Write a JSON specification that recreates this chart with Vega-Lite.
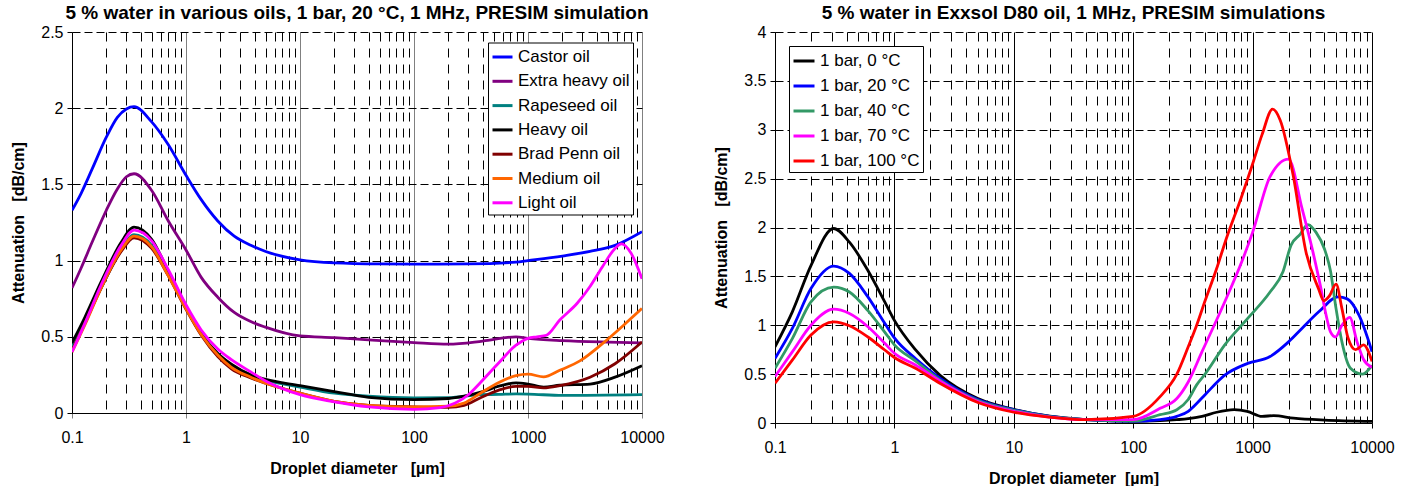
{
  "$schema": "https://vega.github.io/schema/vega-lite/v6.json",
  "background": "white",
  "padding": {"left": 10, "top": 4, "right": 5, "bottom": 0},
  "spacing": 48,
  "resolve": {"scale": {"color": "independent"}, "legend": {"color": "independent"}},
  "config": {
    "font": "Liberation Sans",
    "view": {"stroke": null},
    "title": {"font": "Liberation Sans", "fontSize": 19, "fontWeight": "bold", "color": "black", "anchor": "middle", "offset": 1},
    "axis": {"labelFont": "Liberation Sans", "labelFontSize": 16, "labelColor": "black", "titleFont": "Liberation Sans", "titleFontSize": 16, "titleFontWeight": "bold", "titleColor": "black", "domainColor": "black", "tickColor": "black", "tickSize": 5, "labelOverlap": false, "labelFlush": false},
    "legend": {"labelFont": "Liberation Sans", "labelFontSize": 17, "labelColor": "black"}
  },
  "datasets": {
    "oils": [
      {"s": "Castor oil", "d": 0.1, "a": 1.33}, {"s": "Castor oil", "d": 0.12, "a": 1.44}, {"s": "Castor oil", "d": 0.15, "a": 1.6}, {"s": "Castor oil", "d": 0.2, "a": 1.81}, {"s": "Castor oil", "d": 0.25, "a": 1.94}, {"s": "Castor oil", "d": 0.3, "a": 1.995}, {"s": "Castor oil", "d": 0.35, "a": 2.01}, {"s": "Castor oil", "d": 0.5, "a": 1.91}, {"s": "Castor oil", "d": 0.7, "a": 1.76}, {"s": "Castor oil", "d": 1.0, "a": 1.56}, {"s": "Castor oil", "d": 1.36, "a": 1.40}, {"s": "Castor oil", "d": 1.9, "a": 1.26}, {"s": "Castor oil", "d": 2.65, "a": 1.16}, {"s": "Castor oil", "d": 3.7, "a": 1.10}, {"s": "Castor oil", "d": 5, "a": 1.06}, {"s": "Castor oil", "d": 10, "a": 1.005}, {"s": "Castor oil", "d": 20, "a": 0.985}, {"s": "Castor oil", "d": 50, "a": 0.978}, {"s": "Castor oil", "d": 100, "a": 0.977}, {"s": "Castor oil", "d": 300, "a": 0.978}, {"s": "Castor oil", "d": 785, "a": 0.99}, {"s": "Castor oil", "d": 1000, "a": 1.0}, {"s": "Castor oil", "d": 2000, "a": 1.03}, {"s": "Castor oil", "d": 3500, "a": 1.06}, {"s": "Castor oil", "d": 5800, "a": 1.10}, {"s": "Castor oil", "d": 10000, "a": 1.19},
      {"s": "Extra heavy oil", "d": 0.1, "a": 0.82}, {"s": "Extra heavy oil", "d": 0.12, "a": 0.95}, {"s": "Extra heavy oil", "d": 0.15, "a": 1.12}, {"s": "Extra heavy oil", "d": 0.2, "a": 1.33}, {"s": "Extra heavy oil", "d": 0.25, "a": 1.47}, {"s": "Extra heavy oil", "d": 0.3, "a": 1.55}, {"s": "Extra heavy oil", "d": 0.35, "a": 1.57}, {"s": "Extra heavy oil", "d": 0.5, "a": 1.46}, {"s": "Extra heavy oil", "d": 0.7, "a": 1.26}, {"s": "Extra heavy oil", "d": 1.0, "a": 1.07}, {"s": "Extra heavy oil", "d": 1.36, "a": 0.89}, {"s": "Extra heavy oil", "d": 1.9, "a": 0.76}, {"s": "Extra heavy oil", "d": 2.65, "a": 0.66}, {"s": "Extra heavy oil", "d": 3.7, "a": 0.60}, {"s": "Extra heavy oil", "d": 4.9, "a": 0.565}, {"s": "Extra heavy oil", "d": 10, "a": 0.506}, {"s": "Extra heavy oil", "d": 20, "a": 0.495}, {"s": "Extra heavy oil", "d": 40, "a": 0.48}, {"s": "Extra heavy oil", "d": 100, "a": 0.462}, {"s": "Extra heavy oil", "d": 200, "a": 0.452}, {"s": "Extra heavy oil", "d": 400, "a": 0.472}, {"s": "Extra heavy oil", "d": 785, "a": 0.50}, {"s": "Extra heavy oil", "d": 1000, "a": 0.49}, {"s": "Extra heavy oil", "d": 2000, "a": 0.475}, {"s": "Extra heavy oil", "d": 5000, "a": 0.465}, {"s": "Extra heavy oil", "d": 10000, "a": 0.46},
      {"s": "Rapeseed oil", "d": 0.1, "a": 0.43}, {"s": "Rapeseed oil", "d": 0.13, "a": 0.6}, {"s": "Rapeseed oil", "d": 0.18, "a": 0.82}, {"s": "Rapeseed oil", "d": 0.27, "a": 1.07}, {"s": "Rapeseed oil", "d": 0.35, "a": 1.17}, {"s": "Rapeseed oil", "d": 0.5, "a": 1.1}, {"s": "Rapeseed oil", "d": 0.7, "a": 0.91}, {"s": "Rapeseed oil", "d": 1.0, "a": 0.69}, {"s": "Rapeseed oil", "d": 1.36, "a": 0.52}, {"s": "Rapeseed oil", "d": 1.9, "a": 0.39}, {"s": "Rapeseed oil", "d": 2.5, "a": 0.315}, {"s": "Rapeseed oil", "d": 3.7, "a": 0.245}, {"s": "Rapeseed oil", "d": 5, "a": 0.215}, {"s": "Rapeseed oil", "d": 10, "a": 0.17}, {"s": "Rapeseed oil", "d": 20, "a": 0.13}, {"s": "Rapeseed oil", "d": 40, "a": 0.11}, {"s": "Rapeseed oil", "d": 100, "a": 0.099}, {"s": "Rapeseed oil", "d": 200, "a": 0.1}, {"s": "Rapeseed oil", "d": 383, "a": 0.12}, {"s": "Rapeseed oil", "d": 555, "a": 0.122}, {"s": "Rapeseed oil", "d": 785, "a": 0.125}, {"s": "Rapeseed oil", "d": 1000, "a": 0.124}, {"s": "Rapeseed oil", "d": 2000, "a": 0.115}, {"s": "Rapeseed oil", "d": 10000, "a": 0.12},
      {"s": "Heavy oil", "d": 0.1, "a": 0.46}, {"s": "Heavy oil", "d": 0.13, "a": 0.63}, {"s": "Heavy oil", "d": 0.18, "a": 0.86}, {"s": "Heavy oil", "d": 0.27, "a": 1.12}, {"s": "Heavy oil", "d": 0.35, "a": 1.22}, {"s": "Heavy oil", "d": 0.5, "a": 1.14}, {"s": "Heavy oil", "d": 0.7, "a": 0.93}, {"s": "Heavy oil", "d": 1.0, "a": 0.70}, {"s": "Heavy oil", "d": 1.36, "a": 0.52}, {"s": "Heavy oil", "d": 1.9, "a": 0.39}, {"s": "Heavy oil", "d": 2.5, "a": 0.32}, {"s": "Heavy oil", "d": 3.7, "a": 0.25}, {"s": "Heavy oil", "d": 5, "a": 0.22}, {"s": "Heavy oil", "d": 10, "a": 0.18}, {"s": "Heavy oil", "d": 20, "a": 0.14}, {"s": "Heavy oil", "d": 40, "a": 0.103}, {"s": "Heavy oil", "d": 100, "a": 0.088}, {"s": "Heavy oil", "d": 200, "a": 0.095}, {"s": "Heavy oil", "d": 275, "a": 0.11}, {"s": "Heavy oil", "d": 400, "a": 0.14}, {"s": "Heavy oil", "d": 555, "a": 0.176}, {"s": "Heavy oil", "d": 785, "a": 0.198}, {"s": "Heavy oil", "d": 1000, "a": 0.19}, {"s": "Heavy oil", "d": 1370, "a": 0.17}, {"s": "Heavy oil", "d": 1900, "a": 0.182}, {"s": "Heavy oil", "d": 3500, "a": 0.19}, {"s": "Heavy oil", "d": 5800, "a": 0.235}, {"s": "Heavy oil", "d": 10000, "a": 0.31},
      {"s": "Brad Penn oil", "d": 0.1, "a": 0.41}, {"s": "Brad Penn oil", "d": 0.13, "a": 0.59}, {"s": "Brad Penn oil", "d": 0.18, "a": 0.82}, {"s": "Brad Penn oil", "d": 0.27, "a": 1.06}, {"s": "Brad Penn oil", "d": 0.35, "a": 1.15}, {"s": "Brad Penn oil", "d": 0.5, "a": 1.08}, {"s": "Brad Penn oil", "d": 0.7, "a": 0.9}, {"s": "Brad Penn oil", "d": 1.0, "a": 0.68}, {"s": "Brad Penn oil", "d": 1.36, "a": 0.51}, {"s": "Brad Penn oil", "d": 1.9, "a": 0.37}, {"s": "Brad Penn oil", "d": 2.5, "a": 0.29}, {"s": "Brad Penn oil", "d": 3.7, "a": 0.23}, {"s": "Brad Penn oil", "d": 5, "a": 0.195}, {"s": "Brad Penn oil", "d": 10, "a": 0.13}, {"s": "Brad Penn oil", "d": 20, "a": 0.077}, {"s": "Brad Penn oil", "d": 40, "a": 0.05}, {"s": "Brad Penn oil", "d": 100, "a": 0.04}, {"s": "Brad Penn oil", "d": 200, "a": 0.037}, {"s": "Brad Penn oil", "d": 275, "a": 0.05}, {"s": "Brad Penn oil", "d": 383, "a": 0.1}, {"s": "Brad Penn oil", "d": 555, "a": 0.15}, {"s": "Brad Penn oil", "d": 785, "a": 0.175}, {"s": "Brad Penn oil", "d": 1000, "a": 0.175}, {"s": "Brad Penn oil", "d": 1370, "a": 0.165}, {"s": "Brad Penn oil", "d": 1900, "a": 0.18}, {"s": "Brad Penn oil", "d": 3500, "a": 0.235}, {"s": "Brad Penn oil", "d": 5800, "a": 0.323}, {"s": "Brad Penn oil", "d": 10000, "a": 0.466},
      {"s": "Medium oil", "d": 0.1, "a": 0.40}, {"s": "Medium oil", "d": 0.13, "a": 0.58}, {"s": "Medium oil", "d": 0.18, "a": 0.82}, {"s": "Medium oil", "d": 0.27, "a": 1.07}, {"s": "Medium oil", "d": 0.35, "a": 1.16}, {"s": "Medium oil", "d": 0.5, "a": 1.09}, {"s": "Medium oil", "d": 0.7, "a": 0.9}, {"s": "Medium oil", "d": 1.0, "a": 0.685}, {"s": "Medium oil", "d": 1.36, "a": 0.515}, {"s": "Medium oil", "d": 1.9, "a": 0.38}, {"s": "Medium oil", "d": 2.5, "a": 0.30}, {"s": "Medium oil", "d": 3.7, "a": 0.235}, {"s": "Medium oil", "d": 5, "a": 0.195}, {"s": "Medium oil", "d": 10, "a": 0.13}, {"s": "Medium oil", "d": 20, "a": 0.077}, {"s": "Medium oil", "d": 40, "a": 0.05}, {"s": "Medium oil", "d": 100, "a": 0.04}, {"s": "Medium oil", "d": 200, "a": 0.045}, {"s": "Medium oil", "d": 275, "a": 0.065}, {"s": "Medium oil", "d": 383, "a": 0.13}, {"s": "Medium oil", "d": 555, "a": 0.2}, {"s": "Medium oil", "d": 785, "a": 0.245}, {"s": "Medium oil", "d": 1000, "a": 0.255}, {"s": "Medium oil", "d": 1370, "a": 0.237}, {"s": "Medium oil", "d": 1900, "a": 0.28}, {"s": "Medium oil", "d": 2900, "a": 0.345}, {"s": "Medium oil", "d": 4500, "a": 0.455}, {"s": "Medium oil", "d": 6900, "a": 0.576}, {"s": "Medium oil", "d": 10000, "a": 0.686},
      {"s": "Light oil", "d": 0.1, "a": 0.40}, {"s": "Light oil", "d": 0.13, "a": 0.59}, {"s": "Light oil", "d": 0.18, "a": 0.84}, {"s": "Light oil", "d": 0.27, "a": 1.1}, {"s": "Light oil", "d": 0.35, "a": 1.20}, {"s": "Light oil", "d": 0.5, "a": 1.13}, {"s": "Light oil", "d": 0.7, "a": 0.94}, {"s": "Light oil", "d": 1.0, "a": 0.71}, {"s": "Light oil", "d": 1.36, "a": 0.545}, {"s": "Light oil", "d": 1.9, "a": 0.42}, {"s": "Light oil", "d": 2.5, "a": 0.35}, {"s": "Light oil", "d": 3.7, "a": 0.27}, {"s": "Light oil", "d": 5, "a": 0.21}, {"s": "Light oil", "d": 10, "a": 0.12}, {"s": "Light oil", "d": 20, "a": 0.073}, {"s": "Light oil", "d": 40, "a": 0.04}, {"s": "Light oil", "d": 100, "a": 0.024}, {"s": "Light oil", "d": 170, "a": 0.035}, {"s": "Light oil", "d": 230, "a": 0.065}, {"s": "Light oil", "d": 300, "a": 0.12}, {"s": "Light oil", "d": 383, "a": 0.2}, {"s": "Light oil", "d": 555, "a": 0.33}, {"s": "Light oil", "d": 785, "a": 0.445}, {"s": "Light oil", "d": 1000, "a": 0.49}, {"s": "Light oil", "d": 1200, "a": 0.5}, {"s": "Light oil", "d": 1450, "a": 0.51}, {"s": "Light oil", "d": 1900, "a": 0.61}, {"s": "Light oil", "d": 2700, "a": 0.72}, {"s": "Light oil", "d": 3500, "a": 0.83}, {"s": "Light oil", "d": 4500, "a": 0.96}, {"s": "Light oil", "d": 5800, "a": 1.08}, {"s": "Light oil", "d": 6600, "a": 1.11}, {"s": "Light oil", "d": 8000, "a": 1.05}, {"s": "Light oil", "d": 10000, "a": 0.88}
    ],
    "temps": [
      {"s": "1 bar, 0 °C", "d": 0.1, "a": 0.78}, {"s": "1 bar, 0 °C", "d": 0.14, "a": 1.14}, {"s": "1 bar, 0 °C", "d": 0.2, "a": 1.61}, {"s": "1 bar, 0 °C", "d": 0.31, "a": 1.99}, {"s": "1 bar, 0 °C", "d": 0.42, "a": 1.85}, {"s": "1 bar, 0 °C", "d": 0.6, "a": 1.56}, {"s": "1 bar, 0 °C", "d": 0.83, "a": 1.24}, {"s": "1 bar, 0 °C", "d": 1, "a": 1.05}, {"s": "1 bar, 0 °C", "d": 1.5, "a": 0.75}, {"s": "1 bar, 0 °C", "d": 2.4, "a": 0.49}, {"s": "1 bar, 0 °C", "d": 5, "a": 0.25}, {"s": "1 bar, 0 °C", "d": 10, "a": 0.14}, {"s": "1 bar, 0 °C", "d": 20, "a": 0.07}, {"s": "1 bar, 0 °C", "d": 40, "a": 0.035}, {"s": "1 bar, 0 °C", "d": 100, "a": 0.017}, {"s": "1 bar, 0 °C", "d": 168, "a": 0.024}, {"s": "1 bar, 0 °C", "d": 232, "a": 0.034}, {"s": "1 bar, 0 °C", "d": 289, "a": 0.044}, {"s": "1 bar, 0 °C", "d": 377, "a": 0.068}, {"s": "1 bar, 0 °C", "d": 500, "a": 0.11}, {"s": "1 bar, 0 °C", "d": 700, "a": 0.136}, {"s": "1 bar, 0 °C", "d": 900, "a": 0.12}, {"s": "1 bar, 0 °C", "d": 1200, "a": 0.068}, {"s": "1 bar, 0 °C", "d": 1500, "a": 0.075}, {"s": "1 bar, 0 °C", "d": 2200, "a": 0.05}, {"s": "1 bar, 0 °C", "d": 4000, "a": 0.03}, {"s": "1 bar, 0 °C", "d": 10000, "a": 0.017},
      {"s": "1 bar, 20 °C", "d": 0.1, "a": 0.66}, {"s": "1 bar, 20 °C", "d": 0.14, "a": 0.97}, {"s": "1 bar, 20 °C", "d": 0.2, "a": 1.375}, {"s": "1 bar, 20 °C", "d": 0.31, "a": 1.605}, {"s": "1 bar, 20 °C", "d": 0.42, "a": 1.53}, {"s": "1 bar, 20 °C", "d": 0.6, "a": 1.29}, {"s": "1 bar, 20 °C", "d": 0.83, "a": 1.02}, {"s": "1 bar, 20 °C", "d": 1, "a": 0.87}, {"s": "1 bar, 20 °C", "d": 1.5, "a": 0.66}, {"s": "1 bar, 20 °C", "d": 2.4, "a": 0.46}, {"s": "1 bar, 20 °C", "d": 5, "a": 0.24}, {"s": "1 bar, 20 °C", "d": 10, "a": 0.135}, {"s": "1 bar, 20 °C", "d": 20, "a": 0.068}, {"s": "1 bar, 20 °C", "d": 40, "a": 0.034}, {"s": "1 bar, 20 °C", "d": 100, "a": 0.017}, {"s": "1 bar, 20 °C", "d": 168, "a": 0.034}, {"s": "1 bar, 20 °C", "d": 232, "a": 0.068}, {"s": "1 bar, 20 °C", "d": 289, "a": 0.12}, {"s": "1 bar, 20 °C", "d": 340, "a": 0.20}, {"s": "1 bar, 20 °C", "d": 400, "a": 0.29}, {"s": "1 bar, 20 °C", "d": 585, "a": 0.49}, {"s": "1 bar, 20 °C", "d": 910, "a": 0.61}, {"s": "1 bar, 20 °C", "d": 1400, "a": 0.68}, {"s": "1 bar, 20 °C", "d": 2000, "a": 0.83}, {"s": "1 bar, 20 °C", "d": 2600, "a": 0.97}, {"s": "1 bar, 20 °C", "d": 3600, "a": 1.14}, {"s": "1 bar, 20 °C", "d": 5200, "a": 1.29}, {"s": "1 bar, 20 °C", "d": 6200, "a": 1.27}, {"s": "1 bar, 20 °C", "d": 7800, "a": 1.10}, {"s": "1 bar, 20 °C", "d": 10000, "a": 0.73},
      {"s": "1 bar, 40 °C", "d": 0.1, "a": 0.56}, {"s": "1 bar, 40 °C", "d": 0.14, "a": 0.866}, {"s": "1 bar, 40 °C", "d": 0.2, "a": 1.24}, {"s": "1 bar, 40 °C", "d": 0.31, "a": 1.39}, {"s": "1 bar, 40 °C", "d": 0.42, "a": 1.34}, {"s": "1 bar, 40 °C", "d": 0.6, "a": 1.15}, {"s": "1 bar, 40 °C", "d": 0.83, "a": 0.93}, {"s": "1 bar, 40 °C", "d": 1, "a": 0.80}, {"s": "1 bar, 40 °C", "d": 1.5, "a": 0.635}, {"s": "1 bar, 40 °C", "d": 2.4, "a": 0.44}, {"s": "1 bar, 40 °C", "d": 5, "a": 0.23}, {"s": "1 bar, 40 °C", "d": 10, "a": 0.13}, {"s": "1 bar, 40 °C", "d": 20, "a": 0.065}, {"s": "1 bar, 40 °C", "d": 40, "a": 0.034}, {"s": "1 bar, 40 °C", "d": 100, "a": 0.02}, {"s": "1 bar, 40 °C", "d": 168, "a": 0.085}, {"s": "1 bar, 40 °C", "d": 232, "a": 0.136}, {"s": "1 bar, 40 °C", "d": 289, "a": 0.24}, {"s": "1 bar, 40 °C", "d": 340, "a": 0.39}, {"s": "1 bar, 40 °C", "d": 400, "a": 0.5}, {"s": "1 bar, 40 °C", "d": 585, "a": 0.80}, {"s": "1 bar, 40 °C", "d": 910, "a": 1.07}, {"s": "1 bar, 40 °C", "d": 1400, "a": 1.34}, {"s": "1 bar, 40 °C", "d": 1800, "a": 1.55}, {"s": "1 bar, 40 °C", "d": 2100, "a": 1.82}, {"s": "1 bar, 40 °C", "d": 2500, "a": 1.93}, {"s": "1 bar, 40 °C", "d": 2900, "a": 2.03}, {"s": "1 bar, 40 °C", "d": 3400, "a": 1.95}, {"s": "1 bar, 40 °C", "d": 4000, "a": 1.78}, {"s": "1 bar, 40 °C", "d": 4500, "a": 1.55}, {"s": "1 bar, 40 °C", "d": 5000, "a": 1.17}, {"s": "1 bar, 40 °C", "d": 5600, "a": 0.83}, {"s": "1 bar, 40 °C", "d": 6600, "a": 0.56}, {"s": "1 bar, 40 °C", "d": 8300, "a": 0.50}, {"s": "1 bar, 40 °C", "d": 10000, "a": 0.59},
      {"s": "1 bar, 70 °C", "d": 0.1, "a": 0.475}, {"s": "1 bar, 70 °C", "d": 0.14, "a": 0.73}, {"s": "1 bar, 70 °C", "d": 0.2, "a": 1.0}, {"s": "1 bar, 70 °C", "d": 0.31, "a": 1.164}, {"s": "1 bar, 70 °C", "d": 0.42, "a": 1.12}, {"s": "1 bar, 70 °C", "d": 0.6, "a": 0.985}, {"s": "1 bar, 70 °C", "d": 0.83, "a": 0.815}, {"s": "1 bar, 70 °C", "d": 1, "a": 0.713}, {"s": "1 bar, 70 °C", "d": 1.5, "a": 0.594}, {"s": "1 bar, 70 °C", "d": 2.4, "a": 0.43}, {"s": "1 bar, 70 °C", "d": 5, "a": 0.22}, {"s": "1 bar, 70 °C", "d": 10, "a": 0.12}, {"s": "1 bar, 70 °C", "d": 20, "a": 0.06}, {"s": "1 bar, 70 °C", "d": 40, "a": 0.034}, {"s": "1 bar, 70 °C", "d": 100, "a": 0.034}, {"s": "1 bar, 70 °C", "d": 168, "a": 0.15}, {"s": "1 bar, 70 °C", "d": 232, "a": 0.25}, {"s": "1 bar, 70 °C", "d": 289, "a": 0.42}, {"s": "1 bar, 70 °C", "d": 377, "a": 0.73}, {"s": "1 bar, 70 °C", "d": 585, "a": 1.24}, {"s": "1 bar, 70 °C", "d": 830, "a": 1.68}, {"s": "1 bar, 70 °C", "d": 1000, "a": 1.95}, {"s": "1 bar, 70 °C", "d": 1400, "a": 2.52}, {"s": "1 bar, 70 °C", "d": 2000, "a": 2.70}, {"s": "1 bar, 70 °C", "d": 2600, "a": 2.19}, {"s": "1 bar, 70 °C", "d": 3200, "a": 1.75}, {"s": "1 bar, 70 °C", "d": 3700, "a": 1.4}, {"s": "1 bar, 70 °C", "d": 4100, "a": 1.12}, {"s": "1 bar, 70 °C", "d": 4500, "a": 0.93}, {"s": "1 bar, 70 °C", "d": 4950, "a": 0.88}, {"s": "1 bar, 70 °C", "d": 5600, "a": 1.0}, {"s": "1 bar, 70 °C", "d": 6500, "a": 1.08}, {"s": "1 bar, 70 °C", "d": 7500, "a": 0.83}, {"s": "1 bar, 70 °C", "d": 8500, "a": 0.65}, {"s": "1 bar, 70 °C", "d": 10000, "a": 0.57},
      {"s": "1 bar, 100 °C", "d": 0.1, "a": 0.407}, {"s": "1 bar, 100 °C", "d": 0.14, "a": 0.645}, {"s": "1 bar, 100 °C", "d": 0.2, "a": 0.90}, {"s": "1 bar, 100 °C", "d": 0.31, "a": 1.035}, {"s": "1 bar, 100 °C", "d": 0.42, "a": 0.995}, {"s": "1 bar, 100 °C", "d": 0.6, "a": 0.88}, {"s": "1 bar, 100 °C", "d": 0.83, "a": 0.747}, {"s": "1 bar, 100 °C", "d": 1, "a": 0.67}, {"s": "1 bar, 100 °C", "d": 1.5, "a": 0.56}, {"s": "1 bar, 100 °C", "d": 2.4, "a": 0.407}, {"s": "1 bar, 100 °C", "d": 5, "a": 0.21}, {"s": "1 bar, 100 °C", "d": 10, "a": 0.11}, {"s": "1 bar, 100 °C", "d": 20, "a": 0.06}, {"s": "1 bar, 100 °C", "d": 40, "a": 0.034}, {"s": "1 bar, 100 °C", "d": 100, "a": 0.068}, {"s": "1 bar, 100 °C", "d": 168, "a": 0.27}, {"s": "1 bar, 100 °C", "d": 232, "a": 0.5}, {"s": "1 bar, 100 °C", "d": 289, "a": 0.78}, {"s": "1 bar, 100 °C", "d": 340, "a": 1.0}, {"s": "1 bar, 100 °C", "d": 400, "a": 1.25}, {"s": "1 bar, 100 °C", "d": 500, "a": 1.58}, {"s": "1 bar, 100 °C", "d": 600, "a": 1.88}, {"s": "1 bar, 100 °C", "d": 800, "a": 2.3}, {"s": "1 bar, 100 °C", "d": 1000, "a": 2.65}, {"s": "1 bar, 100 °C", "d": 1200, "a": 2.95}, {"s": "1 bar, 100 °C", "d": 1470, "a": 3.21}, {"s": "1 bar, 100 °C", "d": 1700, "a": 3.1}, {"s": "1 bar, 100 °C", "d": 2190, "a": 2.53}, {"s": "1 bar, 100 °C", "d": 2800, "a": 1.75}, {"s": "1 bar, 100 °C", "d": 3550, "a": 1.38}, {"s": "1 bar, 100 °C", "d": 3950, "a": 1.25}, {"s": "1 bar, 100 °C", "d": 4400, "a": 1.3}, {"s": "1 bar, 100 °C", "d": 5000, "a": 1.42}, {"s": "1 bar, 100 °C", "d": 5600, "a": 1.17}, {"s": "1 bar, 100 °C", "d": 6300, "a": 0.87}, {"s": "1 bar, 100 °C", "d": 7300, "a": 0.75}, {"s": "1 bar, 100 °C", "d": 8500, "a": 0.80}, {"s": "1 bar, 100 °C", "d": 10000, "a": 0.63}
    ]
  },
  "hconcat": [
    {
      "width": 570,
      "height": 381,
      "title": {"text": "5 % water in various oils, 1 bar, 20 °C, 1 MHz, PRESIM simulation"},
      "data": {"name": "oils"},
      "mark": {"type": "line", "interpolate": "monotone", "strokeWidth": 2.8, "clip": true},
      "encoding": {
        "x": {"field": "d", "type": "quantitative", "scale": {"type": "log", "domain": [0.1, 10000], "nice": false},
          "axis": {"title": "Droplet diameter\u00a0\u00a0\u00a0[µm]", "format": "~g",
            "values": [0.1,0.2,0.3,0.4,0.5,0.6,0.7,0.8,0.9,1,2,3,4,5,6,7,8,9,10,20,30,40,50,60,70,80,90,100,200,300,400,500,600,700,800,900,1000,2000,3000,4000,5000,6000,7000,8000,9000,10000],
            "labelExpr": "indexof(['0.1','1','10','100','1000','10000'], datum.label) >= 0 ? datum.label : ''",
            "grid": true,
            "gridColor": {"condition": {"test": "indexof([0.1,1,10,100,1000,10000], datum.value) >= 0", "value": "#808080"}, "value": "#000000"},
            "gridDash": {"condition": {"test": "indexof([0.1,1,10,100,1000,10000], datum.value) >= 0", "value": []}, "value": [9, 7]},
            "tickOpacity": {"condition": {"test": "indexof([0.1,1,10,100,1000,10000], datum.value) >= 0", "value": 1}, "value": 0},
            "tickColor": "#808080",
            "labelPadding": 11, "titlePadding": 15}},
        "y": {"field": "a", "type": "quantitative", "scale": {"domain": [0, 2.5], "nice": false},
          "axis": {"title": "Attenuation\u00a0\u00a0\u00a0[dB/cm]", "values": [0, 0.5, 1, 1.5, 2, 2.5], "format": "~g", "grid": true, "gridColor": "#000000", "gridDash": [8, 4], "labelPadding": 4, "titlePadding": 14}},
        "color": {"field": "s", "type": "nominal", "sort": ["Castor oil", "Extra heavy oil", "Rapeseed oil", "Heavy oil", "Brad Penn oil", "Medium oil", "Light oil"],
          "scale": {"domain": ["Castor oil", "Extra heavy oil", "Rapeseed oil", "Heavy oil", "Brad Penn oil", "Medium oil", "Light oil"], "range": ["#0000FF", "#800080", "#008080", "#000000", "#800000", "#FF6600", "#FF00FF"]},
          "legend": {"orient": "none", "legendX": 416, "legendY": 10.5, "title": null, "symbolType": "stroke", "symbolSize": 400, "symbolStrokeWidth": 3, "labelOffset": 4, "rowPadding": 4.3, "padding": 3, "strokeColor": "black", "fillColor": "white", "labelLimit": 300}}
      }
    },
    {
      "width": 597,
      "height": 391,
      "title": {"text": "5 % water in Exxsol D80 oil, 1 MHz, PRESIM simulations"},
      "data": {"name": "temps"},
      "mark": {"type": "line", "interpolate": "monotone", "strokeWidth": 2.8, "clip": true},
      "encoding": {
        "x": {"field": "d", "type": "quantitative", "scale": {"type": "log", "domain": [0.1, 10000], "nice": false},
          "axis": {"title": "Droplet diameter\u00a0\u00a0[µm]", "format": "~g",
            "values": [0.1,0.2,0.3,0.4,0.5,0.6,0.7,0.8,0.9,1,2,3,4,5,6,7,8,9,10,20,30,40,50,60,70,80,90,100,200,300,400,500,600,700,800,900,1000,2000,3000,4000,5000,6000,7000,8000,9000,10000],
            "labelExpr": "indexof(['0.1','1','10','100','1000','10000'], datum.label) >= 0 ? datum.label : ''",
            "grid": true,
            "gridColor": "#000000",
            "gridDash": {"condition": {"test": "indexof([0.1,1,10,100,1000,10000], datum.value) >= 0", "value": []}, "value": [9, 7]},
            "tickOpacity": {"condition": {"test": "indexof([0.1,1,10,100,1000,10000], datum.value) >= 0", "value": 1}, "value": 0},
            "labelPadding": 11, "titlePadding": 15}},
        "y": {"field": "a", "type": "quantitative", "scale": {"domain": [0, 4], "nice": false},
          "axis": {"title": "Attenuation\u00a0\u00a0\u00a0[dB/cm]", "values": [0, 0.5, 1, 1.5, 2, 2.5, 3, 3.5, 4], "format": "~g", "grid": true, "gridColor": "#000000", "gridDash": [8, 4], "labelPadding": 4, "titlePadding": 14}},
        "color": {"field": "s", "type": "nominal", "sort": ["1 bar, 0 °C", "1 bar, 20 °C", "1 bar, 40 °C", "1 bar, 70 °C", "1 bar, 100 °C"],
          "scale": {"domain": ["1 bar, 0 °C", "1 bar, 20 °C", "1 bar, 40 °C", "1 bar, 70 °C", "1 bar, 100 °C"], "range": ["#000000", "#0000FF", "#339966", "#FF00FF", "#FF0000"]},
          "legend": {"orient": "none", "legendX": 14, "legendY": 14, "title": null, "symbolType": "stroke", "symbolSize": 441, "symbolStrokeWidth": 3, "labelOffset": 4, "rowPadding": 5, "padding": 3, "strokeColor": "black", "fillColor": "white", "labelLimit": 300}}
      }
    }
  ]
}
